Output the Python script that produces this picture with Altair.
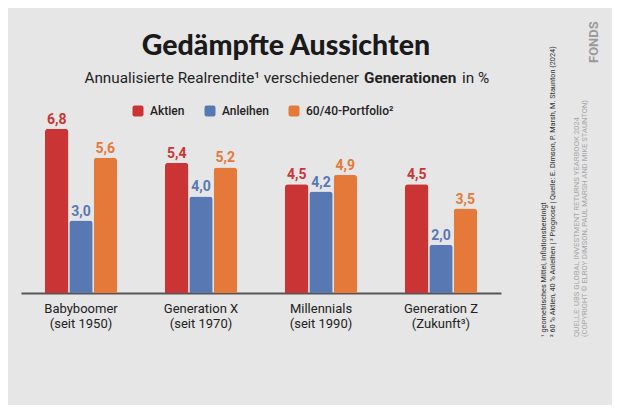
import altair as alt
import pandas as pd

categories = ["Babyboomer\n(seit 1950)", "Generation X\n(seit 1970)",
              "Millennials\n(seit 1990)", "Generation Z\n(Zukunft³)"]
series = ["Aktien", "Anleihen", "60/40-Portfolio²"]
aktien = [6.8, 5.4, 4.5, 4.5]
anleihen = [3.0, 4.0, 4.2, 2.0]
portfolio = [5.6, 5.2, 4.9, 3.5]
colors = ["#CB3435", "#5878B4", "#E4793A"]

title_text = "Gedämpfte Aussichten"
sub_1 = "Annualisierte Realrendite¹ verschiedener"
sub_2 = "Generationen"
sub_3 = "in %"
notes_dark = ["¹ geometrisches Mittel, inflationsbereinigt",
              "² 60 % Aktien, 40 % Anleihen | ³ Prognose | Quelle: E. Dimson, P. Marsh, M. Staunton (2024)"]
notes_light = ["QUELLE: UBS GLOBAL INVESTMENT RETURNS YEARBOOK 2024",
               "(COPYRIGHT © ELROY DIMSON, PAUL MARSH AND MIKE STAUNTON)"]

rows = []
for vals, s in zip([aktien, anleihen, portfolio], series):
    for c, v in zip(categories, vals):
        rows.append({"gen": c, "series": s, "value": v})
df = pd.DataFrame(rows)

NARROW = "Roboto"
rounded = ("M-0.6,-1L0.6,-1Q1,-1 1,-0.6L1,0.6Q1,1 0.6,1L-0.6,1Q-1,1 -1,0.6"
           "L-1,-0.6Q-1,-1 -0.6,-1Z")

x_enc = alt.X("gen:N", sort=categories,
              scale=alt.Scale(paddingInner=0.4, paddingOuter=0.2),
              axis=alt.Axis(title=None, labelAngle=0, ticks=False,
                            domainColor="#555555", domainWidth=2,
                            labelExpr="split(datum.label, '\\n')",
                            labelFont=NARROW, labelFontSize=13,
                            labelColor="#222222", labelPadding=9,
                            labelLineHeight=15))
xo_enc = alt.XOffset("series:N", sort=series, scale=alt.Scale(paddingInner=0.04))
y_enc = alt.Y("value:Q", scale=alt.Scale(domain=[0, 7]), axis=None)
color_enc = alt.Color("series:N", sort=series,
                      scale=alt.Scale(domain=series, range=colors),
                      legend=alt.Legend(orient="none", legendX=111, legendY=-19,
                                        direction="horizontal", title=None,
                                        symbolType=rounded, symbolSize=121,
                                        symbolStrokeWidth=0, symbolOpacity=1,
                                        labelFont=NARROW, labelFontSize=12,
                                        labelFontWeight=500,
                                        labelColor="#222222", columnPadding=19,
                                        labelOffset=6, padding=0))

base = alt.Chart(df)
bars = base.mark_bar(cornerRadiusTopLeft=3, cornerRadiusTopRight=3).encode(
    x=x_enc, xOffset=xo_enc, y=y_enc, color=color_enc)
labels = base.transform_calculate(
    lab="replace(format(datum.value, '.1f'), '.', ',')"
).mark_text(baseline="bottom", dy=-2, font=NARROW, fontSize=14,
            fontWeight="bold").encode(
    x=alt.X("gen:N", sort=categories), xOffset=alt.XOffset("series:N", sort=series),
    y="value:Q", text="lab:N",
    color=alt.Color("series:N", sort=series, legend=None))

one = pd.DataFrame({"k": [0]})


def txt(text, x, y, **kw):
    return alt.Chart(one).mark_text(text=text, **kw).encode(
        x=alt.value(x), y=alt.value(y))


layers = [
    bars, labels,
    txt(title_text, 265, -69, font="Lato", fontWeight=900, fontSize=28.5,
        color="#1a1a1a", align="center", baseline="alphabetic"),
    txt(sub_1, 338, -41, font=NARROW, fontSize=15.3, color="#222222",
        align="right", baseline="alphabetic"),
    txt(sub_2, 343, -41, font=NARROW, fontSize=15.3, fontWeight="bold",
        color="#222222", align="left", baseline="alphabetic"),
    txt(sub_3, 441, -41, font=NARROW, fontSize=15.3, color="#222222",
        align="left", baseline="alphabetic"),
    txt(notes_dark[0], 523, 213, font=NARROW, fontSize=7.3, color="#333333",
        angle=270, align="left", baseline="middle"),
    txt(notes_dark[1], 532, 213, font=NARROW, fontSize=7.3, color="#333333",
        angle=270, align="left", baseline="middle"),
    txt(notes_light[0], 556, 213, font=NARROW, fontSize=7.7,
        color="#A5A5A5", angle=270, align="left", baseline="middle"),
    txt(notes_light[1], 564, 213, font=NARROW, fontSize=7.6,
        color="#A5A5A5", angle=270, align="left", baseline="middle"),
    txt("FONDS", 573, -61, font="Roboto", fontWeight="bold", fontSize=13,
        color="#9A9A9A", angle=270, align="left", baseline="middle"),
]

chart = alt.layer(*layers).properties(
    width=480, height=169,
    autosize=alt.AutoSizeParams(type="none"),
    padding={"left": 13, "top": 116, "right": 111, "bottom": 112},
    background="#E6E6E6",
).configure_view(stroke=None)

chart.save("out.html", embed_options={"renderer": "svg", "actions": False})
